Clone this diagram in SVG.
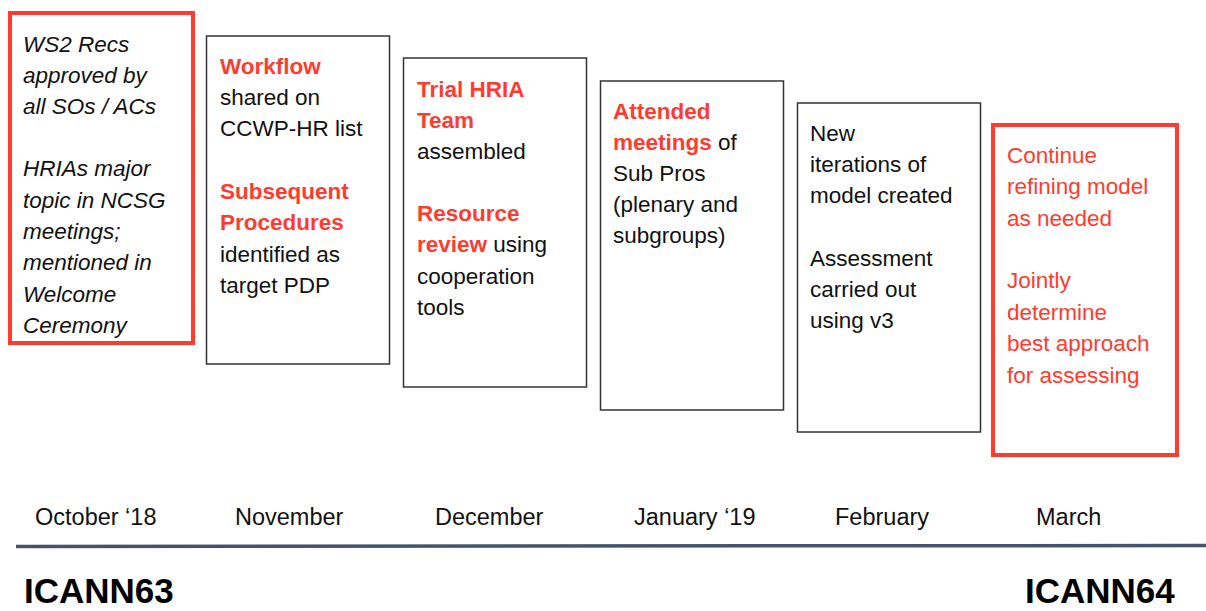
<svg xmlns="http://www.w3.org/2000/svg" width="1206" height="611" viewBox="0 0 1206 611">
<style>
text{font-family:"Liberation Sans",Arial,sans-serif;font-size:22.5px;fill:#111}
.box{fill:#fff;stroke:#333;stroke-width:1.5}
.rbox{fill:#fff;stroke:#FF3B2F;stroke-width:4}
.it{font-style:italic}
.hl{fill:#FF3B2F;font-weight:bold}
.red{fill:#FF3B2F}
.mon{font-size:23.5px}
.ic{font-size:35px;font-weight:bold;fill:#000}
</style>
<rect width="1206" height="611" fill="#fff"/>
<g id="oct">
<rect class="rbox" x="10" y="13" width="183" height="330"/>
<text class="it" x="23"><tspan x="23" y="52">WS2 Recs</tspan><tspan x="23" y="83">approved by</tspan><tspan x="23" y="114">all SOs / ACs</tspan><tspan x="23" y="176">HRIAs major</tspan><tspan x="23" y="208">topic in NCSG</tspan><tspan x="23" y="239">meetings;</tspan><tspan x="23" y="270">mentioned in</tspan><tspan x="23" y="302">Welcome</tspan><tspan x="23" y="333">Ceremony</tspan></text>
</g>
<g id="nov">
<rect class="box" x="206.5" y="36" width="183" height="328"/>
<text x="220"><tspan x="220" y="74" class="hl">Workflow</tspan><tspan x="220" y="105">shared on</tspan><tspan x="220" y="136">CCWP-HR list</tspan><tspan x="220" y="199" class="hl">Subsequent</tspan><tspan x="220" y="230" class="hl">Procedures</tspan><tspan x="220" y="262">identified as</tspan><tspan x="220" y="293">target PDP</tspan></text>
</g>
<g id="dec">
<rect class="box" x="403.5" y="58" width="183" height="329"/>
<text x="417"><tspan x="417" y="97" class="hl">Trial HRIA</tspan><tspan x="417" y="128" class="hl">Team</tspan><tspan x="417" y="159">assembled</tspan><tspan x="417" y="221" class="hl">Resource</tspan><tspan x="417" y="252" class="hl">review</tspan><tspan> using</tspan><tspan x="417" y="284">cooperation</tspan><tspan x="417" y="315">tools</tspan></text>
</g>
<g id="jan">
<rect class="box" x="600.5" y="81" width="183" height="329"/>
<text x="613"><tspan x="613" y="119" class="hl">Attended</tspan><tspan x="613" y="150" class="hl">meetings</tspan><tspan> of</tspan><tspan x="613" y="181">Sub Pros</tspan><tspan x="613" y="212">(plenary and</tspan><tspan x="613" y="243">subgroups)</tspan></text>
</g>
<g id="feb">
<rect class="box" x="797.5" y="103" width="183" height="329"/>
<text x="810"><tspan x="810" y="141">New</tspan><tspan x="810" y="172">iterations of</tspan><tspan x="810" y="203">model created</tspan><tspan x="810" y="266">Assessment</tspan><tspan x="810" y="297">carried out</tspan><tspan x="810" y="328">using v3</tspan></text>
</g>
<g id="mar">
<rect class="rbox" x="993" y="125" width="184" height="330"/>
<text class="red" x="1007"><tspan x="1007" y="163">Continue</tspan><tspan x="1007" y="194">refining model</tspan><tspan x="1007" y="226">as needed</tspan><tspan x="1007" y="288">Jointly</tspan><tspan x="1007" y="320">determine</tspan><tspan x="1007" y="351">best approach</tspan><tspan x="1007" y="383">for assessing</tspan></text>
</g>
<g id="connectors">
<line x1="16" y1="546.5" x2="1206" y2="545.5" stroke="#44546A" stroke-width="3.5"/>
</g>
<g id="labels">
<text class="mon" x="35" y="525">October ‘18</text>
<text class="mon" x="235" y="525">November</text>
<text class="mon" x="435" y="525">December</text>
<text class="mon" x="634" y="525">January ‘19</text>
<text class="mon" x="835" y="525">February</text>
<text class="mon" x="1036" y="525">March</text>
<text class="ic" x="24" y="603">ICANN63</text>
<text class="ic" x="1025" y="603">ICANN64</text>
</g>
</svg>
